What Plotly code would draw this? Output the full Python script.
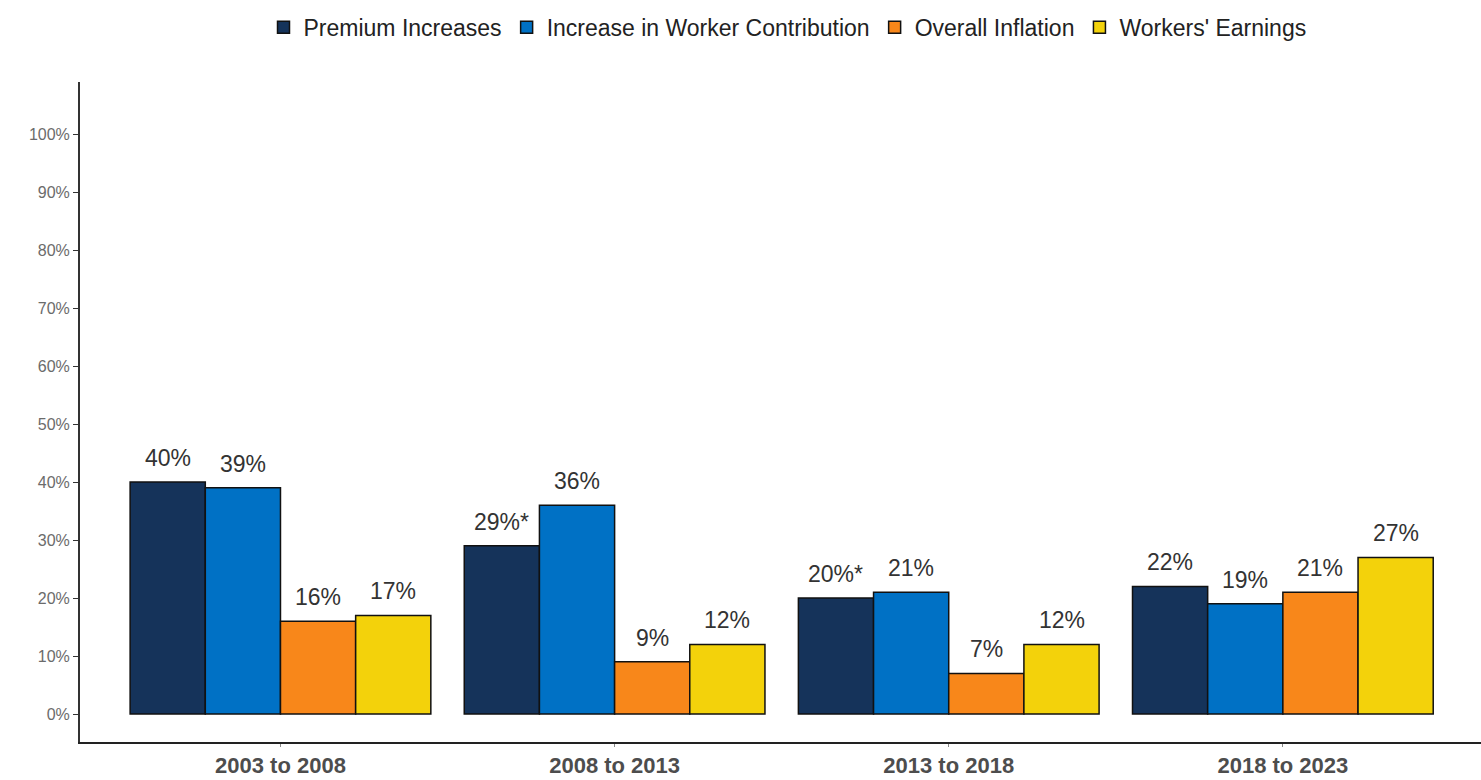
import plotly.graph_objects as go

categories = ["2003 to 2008", "2008 to 2013", "2013 to 2018", "2018 to 2023"]
series_names = ["Premium Increases", "Increase in Worker Contribution", "Overall Inflation", "Workers' Earnings"]
premium = [40, 29, 20, 22]
worker_contrib = [39, 36, 21, 19]
inflation = [16, 9, 7, 21]
earnings = [17, 12, 12, 27]
premium_labels = ["40%", "29%*", "20%*", "22%"]
worker_labels = ["39%", "36%", "21%", "19%"]
inflation_labels = ["16%", "9%", "7%", "21%"]
earnings_labels = ["17%", "12%", "12%", "27%"]
y_ticks = [0, 10, 20, 30, 40, 50, 60, 70, 80, 90, 100]

colors = ["#15335A", "#0071C5", "#F8871A", "#F3D20B"]
values = [premium, worker_contrib, inflation, earnings]
labels = [premium_labels, worker_labels, inflation_labels, earnings_labels]

FONT = "Liberation Sans, Arial, sans-serif"

fig = go.Figure()
for name, vals, col in zip(series_names, values, colors):
    fig.add_trace(go.Bar(
        x=categories, y=vals, name=name,
        marker=dict(color=col, line=dict(color="#111111", width=1.5)),
        hoverinfo="skip",
    ))

n = len(series_names)
w = 0.9 / n
annotations = []
for j, labs in enumerate(labels):
    for i, (v, t) in enumerate(zip(values[j], labs)):
        annotations.append(dict(
            x=i + (j - (n - 1) / 2) * w, y=v, xref="x", yref="y",
            text=t, showarrow=False, yanchor="bottom", yshift=9,
            font=dict(family=FONT, size=23, color="#333333"),
        ))

fig.update_layout(
    width=1481, height=780,
    margin=dict(l=80, r=0, t=82, b=38),
    paper_bgcolor="white", plot_bgcolor="white",
    barmode="group", bargap=0.1, bargroupgap=0,
    font=dict(family=FONT),
    legend=dict(orientation="h", x=0.505, xanchor="center", y=1.083, yanchor="middle",
                font=dict(size=23, color="#222222"), traceorder="normal",
                itemwidth=30),
    annotations=annotations,
    xaxis=dict(
        type="category", range=[-0.6, 3.593], automargin=False,
        showline=True, linecolor="#222222", linewidth=2,
        ticks="outside", ticklen=3, tickcolor="#888888",
        tickfont=dict(size=22, color="#4d4d4d", family=FONT, weight="bold"),
        showgrid=False, zeroline=False,
    ),
    yaxis=dict(
        range=[-4.83, 109], tickvals=y_ticks, ticktext=[f"{t}%" for t in y_ticks],
        automargin=False,
        showline=True, linecolor="#333333", linewidth=2,
        ticks="outside", ticklen=5, tickcolor="#333333",
        tickfont=dict(size=16, color="#6b6b6b"),
        showgrid=False, zeroline=False,
    ),
)

fig.write_html("out.html")
